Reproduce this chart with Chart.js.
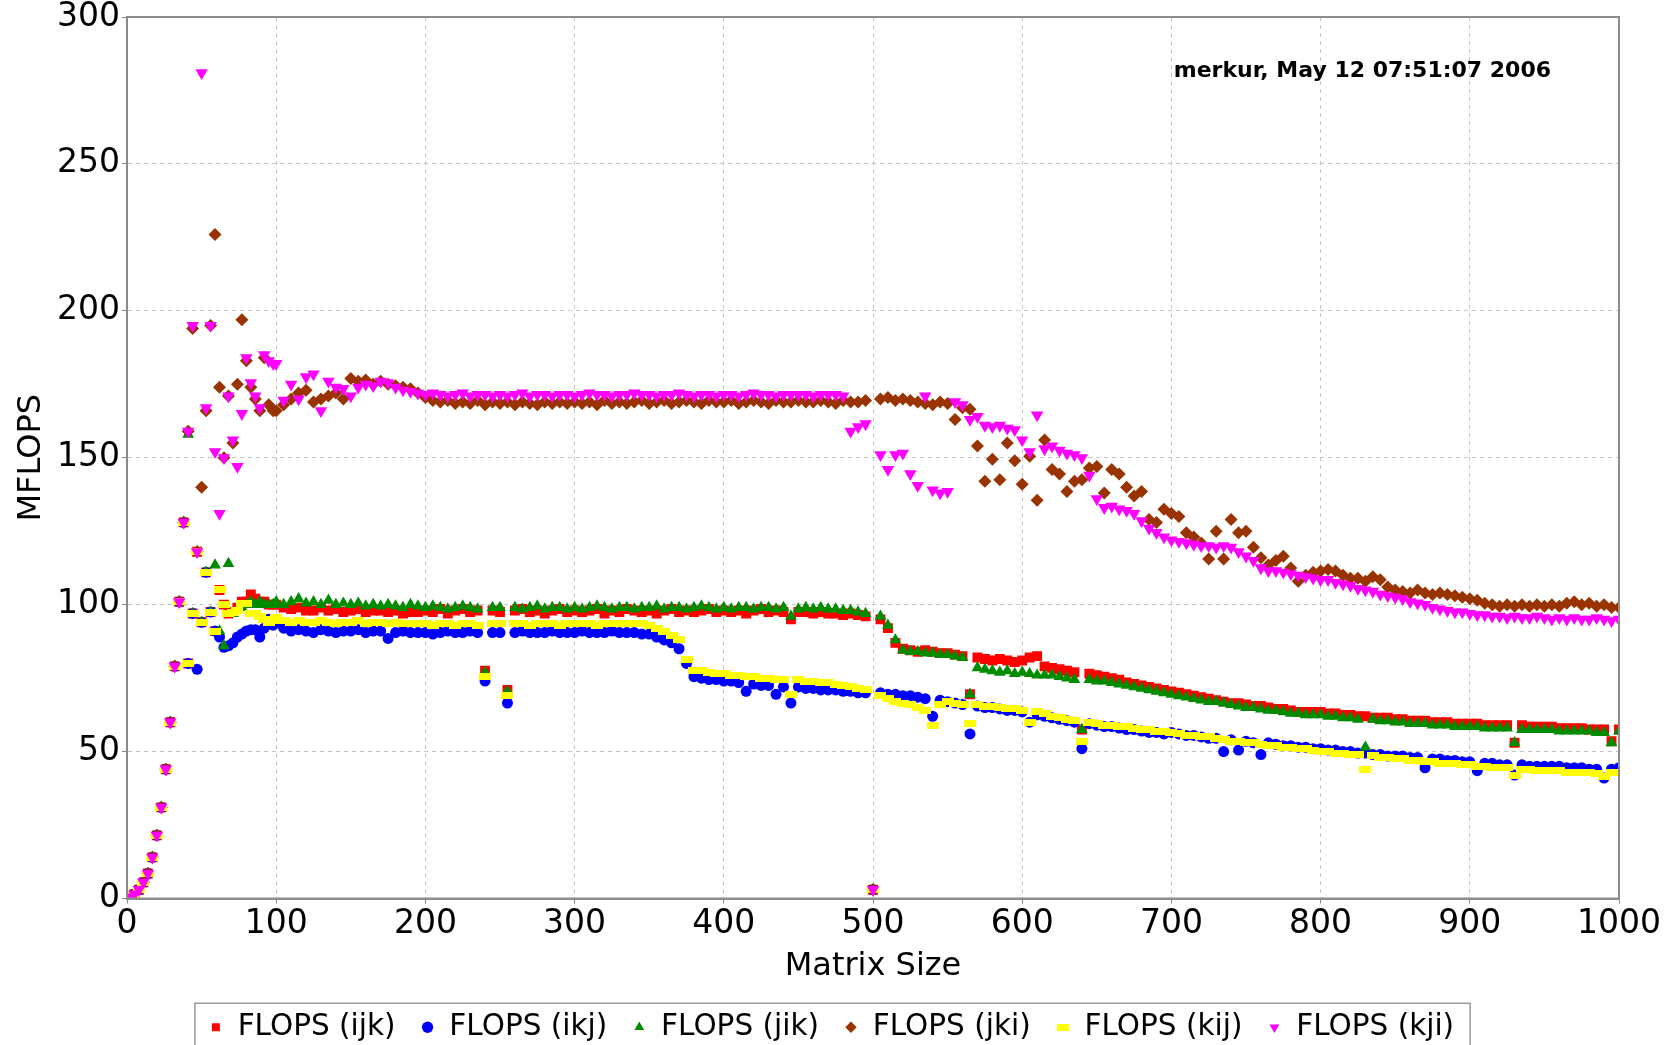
<!DOCTYPE html>
<html>
<head>
<meta charset="utf-8">
<title>MFLOPS vs Matrix Size</title>
<script src="https://cdn.jsdelivr.net/npm/chart.js@4.4.1/dist/chart.umd.min.js"></script>
<style>
  html, body { margin: 0; padding: 0; background: #ffffff; }
  #wrap { width: 1677px; height: 1045px; }
</style>
</head>
<body>
<div id="wrap"><canvas id="flopsChart" width="1677" height="1045"></canvas></div>
<script>
// Matrix sizes (x) - step 3 below 100, step 5 above
const sizes = [
  2, 5, 8, 11, 14, 17, 20, 23, 26, 29, 32, 35, 38,
  41, 44, 47, 50, 53, 56, 59, 62, 65, 68, 71, 74, 77, 80, 83, 86, 89, 92, 95, 98,
  100, 105, 110, 115, 120, 125, 130, 135, 140, 145,
  150, 155, 160, 165, 170, 175, 180, 185, 190, 195,
  200, 205, 210, 215, 220, 225, 230, 235, 240, 245,
  250, 255, 260, 265, 270, 275, 280, 285, 290, 295,
  300, 305, 310, 315, 320, 325, 330, 335, 340, 345,
  350, 355, 360, 365, 370, 375, 380, 385, 390, 395,
  400, 405, 410, 415, 420, 425, 430, 435, 440, 445,
  450, 455, 460, 465, 470, 475, 480, 485, 490, 495,
  500, 505, 510, 515, 520, 525, 530, 535, 540, 545,
  550, 555, 560, 565, 570, 575, 580, 585, 590, 595,
  600, 605, 610, 615, 620, 625, 630, 635, 640, 645,
  650, 655, 660, 665, 670, 675, 680, 685, 690, 695,
  700, 705, 710, 715, 720, 725, 730, 735, 740, 745,
  750, 755, 760, 765, 770, 775, 780, 785, 790, 795,
  800, 805, 810, 815, 820, 825, 830, 835, 840, 845,
  850, 855, 860, 865, 870, 875, 880, 885, 890, 895,
  900, 905, 910, 915, 920, 925, 930, 935, 940, 945,
  950, 955, 960, 965, 970, 975, 980, 985, 990, 995,
  1000,
]

// MFLOPS per loop order
const ijk = [
  0.5, 1.5, 3, 5.5, 8.5, 14, 21.5, 31, 44, 60, 79, 101, 128,
  80, 97, 118, 94, 111, 97.5, 91, 105, 100, 97, 97.5, 99, 101, 101, 103.5, 102, 101, 101, 100, 100,
  100, 99, 98.5, 99, 98, 98, 99, 98, 98.5, 97.5,
  98, 98.5, 97.5, 98, 98, 97.5, 98, 97, 97.5, 97.5,
  98, 97.5, 98.5, 97, 98, 98.5, 97.5, 98, 77.5, 98,
  97.5, 71, 98, 98.5, 97.5, 98, 97, 98, 98.5, 97.5,
  98, 97.5, 98, 98.5, 97, 98, 97.5, 98.5, 98, 97.5,
  98, 97, 98, 98.5, 97.5, 98, 97.5, 98, 98.5, 97.5,
  98, 97.5, 98, 97, 98, 98.5, 97.5, 98, 97.5, 95,
  97.5, 97.5, 97, 97.5, 97, 97, 96.5, 97, 96.5, 96,
  3, 95, 92, 87, 85, 84.5, 84, 84.5, 84, 83.5,
  83.5, 83, 82.5, 69.5, 82, 81.5, 81, 81.5, 81, 80.5,
  81, 82, 82.5, 79, 78.5, 78, 77.5, 77, 57.5, 76.5,
  76, 75.5, 75, 74.5, 73.5, 73, 72.5, 72, 71.5, 71,
  70.5, 70, 69.5, 69, 68.5, 68, 67.5, 67, 66.5, 66.5,
  66, 65.5, 65.5, 65, 64.5, 64.5, 64, 63.5, 63.5, 63.5,
  63.5, 63, 63, 62.5, 62.5, 62, 62, 61.5, 61.5, 61.5,
  61, 61, 60.5, 60.5, 60.5, 60, 60, 60, 59.5, 59.5,
  59.5, 59.5, 59, 59, 59, 59, 53, 59, 58.5, 58.5,
  58.5, 58.5, 58, 58, 58, 58, 57.5, 57.5, 57.5, 53.5,
  57.5,
]

const ikj = [
  0.5, 1.5, 3, 5.5, 8.5, 14, 21.5, 31, 44, 60, 79, 101, 128,
  80, 97, 78, 94, 111, 97.5, 91, 89, 85.5, 86, 87, 89, 90, 91, 91.5, 91.5, 89, 92, 95, 93,
  94, 92, 91, 91.5, 91, 90.5, 91.5, 91, 90.5, 91,
  91, 91.5, 90.5, 91, 91, 88.5, 90.5, 91, 90.5, 90.5,
  90.5, 90, 90.5, 91, 90.5, 90.5, 91, 90.5, 74, 90.5,
  90.5, 66.5, 90.5, 91, 90.5, 90.5, 90.5, 91, 90.5, 90.5,
  90.5, 91, 90.5, 90.5, 90.5, 91, 90.5, 90.5, 90.5, 90,
  90, 89, 88, 87, 85, 80, 75.5, 75, 74.5, 74.5,
  74, 74, 73.5, 70.5, 73, 72.5, 72.5, 69.5, 72, 66.5,
  72, 71.5, 71.5, 71, 71, 71, 70.5, 70.5, 70, 70,
  3, 70, 69.5, 69.5, 69, 69, 68.5, 68, 62, 67.5,
  67, 66.5, 66, 56, 65.5, 65, 65, 64.5, 64, 64,
  63.5, 60, 62.5, 62, 61.5, 61, 60.5, 60, 51, 59.5,
  59, 58.5, 58.5, 58, 57.5, 57.5, 57, 56.5, 56.5, 56,
  56.5, 56, 55.5, 55.5, 55, 54.5, 54.5, 50, 54, 50.5,
  53.5, 53, 49, 53, 52.5, 52, 52, 51.5, 51.5, 51,
  51, 50.5, 50.5, 50, 50, 49.5, 49.5, 49, 49, 48.5,
  48.5, 48.5, 48, 48, 44.5, 47.5, 47.5, 47, 47, 46.5,
  46.5, 43.5, 46, 46, 45.5, 45.5, 42, 45.5, 45, 45,
  45, 45, 45, 44.5, 44.5, 44.5, 44, 44, 41, 44,
  44.5,
]

const jik = [
  0.5, 1.5, 3, 5.5, 8.5, 14, 21.5, 31, 44, 60, 79, 101, 128,
  158, 97, 118, 94, 111, 97.5, 113.5, 91, 86, 114, 97, 98, 99, 100, 101, 100, 101, 100, 100, 100,
  101, 100, 101, 102, 100.5, 101, 100, 101.5, 100, 100.5,
  100, 100.5, 99.5, 100, 99.5, 100, 99.5, 99, 100, 99.5,
  99, 99.5, 99, 98.5, 99, 99.5, 99, 98.5, 77, 99,
  99, 70.5, 99, 98.5, 99, 99.5, 98.5, 99, 99, 98.5,
  99, 98.5, 99, 99.5, 99, 98.5, 99, 99, 98.5, 99,
  99, 99.5, 98.5, 99, 99, 98.5, 99, 99.5, 99, 98.5,
  99, 98.5, 99, 99, 98.5, 99, 99, 98.5, 99, 96,
  98.5, 99, 98.5, 99, 98.5, 98.5, 98, 98, 97.5, 97,
  3, 96, 93, 88, 84.5, 84, 84, 83.5, 83.5, 83,
  83, 82.5, 82, 69.5, 78.5, 78, 77.5, 77, 77.5, 76.5,
  77, 76.5, 76, 76, 76, 75.5, 75, 74.5, 57.5, 74.5,
  74, 74, 73.5, 73, 72.5, 72, 71.5, 71, 70.5, 70,
  69.5, 69, 68.5, 68, 67.5, 67, 67, 66.5, 66, 65.5,
  65, 65, 64.5, 64, 64, 63.5, 63, 63, 62.5, 62.5,
  62.5, 62, 62, 61.5, 61.5, 61, 51.5, 61, 60.5, 60.5,
  60, 60, 59.5, 59.5, 59.5, 59, 59, 59, 58.5, 58.5,
  58.5, 58.5, 58, 58, 58, 58, 53, 57.5, 57.5, 57.5,
  57.5, 57.5, 57, 57, 57, 57, 57, 56.5, 56.5, 53,
  57,
]

const jki = [
  0.5, 1.5, 3, 5.5, 8.5, 14, 21.5, 31, 44, 60, 79, 101, 128,
  159, 194, 118, 140, 166, 195, 226, 174, 150, 171, 155, 175, 197, 183, 174, 170, 166, 184, 168, 166,
  166, 168, 170, 172, 173, 169, 170, 171, 172, 170,
  177, 176, 176.5, 175, 176, 175, 174.5, 174, 173.5, 172,
  170.5, 169.5, 169, 169.5, 168.5, 169, 168.5, 169.5, 168, 169,
  168.5, 169, 168, 169, 168.5, 168, 169, 168.5, 169, 168.5,
  169, 168.5, 169, 168, 169.5, 168.5, 169, 168.5, 169, 169.5,
  168.5, 169, 169.5, 168.5, 169, 169.5, 169, 168.5, 169.5, 169,
  169, 169.5, 168.5, 169, 169.5, 169, 168.5, 169.5, 169, 169,
  169.5, 169, 169, 169.5, 169, 168.5, 169.5, 169, 169, 169.5,
  3, 170, 170.5, 169.5, 170, 169.5, 169, 168.5, 168, 169,
  168.5, 163, 167, 166.5, 154, 142, 149.5, 142.5, 155, 149,
  141, 150.5, 135.5, 156, 146, 144.5, 138.5, 142, 142.5, 146.5,
  147, 138, 146, 144.5, 140, 137, 138.5, 129, 128, 132.5,
  131, 130, 124.5, 123, 121, 115.5, 125, 115.5, 129, 124.5,
  125, 119.5, 116, 113.5, 115, 116.5, 112.5, 108, 110, 111,
  111.5, 112, 111.5, 110, 109, 109, 108, 109.5, 108.5, 106,
  105, 104.5, 104, 105, 104, 103.5, 104, 103.5, 103, 102.5,
  102, 101.5, 100.5, 100, 99.5, 100, 99.5, 100, 99.5, 100,
  99.5, 100, 99.5, 100.5, 101, 100, 100.5, 99.5, 100, 99,
  99,
]

const kij = [
  0.5, 1.5, 3, 5.5, 8.5, 14, 21.5, 31, 44, 60, 79, 101, 128,
  80, 97, 118, 94, 111, 97.5, 91, 105, 100, 97, 97.5, 98, 100.5, 100.5, 97, 97, 96, 95, 94, 94.5,
  95.5, 94.5, 94, 94.5, 94, 94, 94.5, 94, 93.5, 94,
  94, 94.5, 93.5, 94, 94, 93.5, 94, 93.5, 93.5, 93.5,
  93.5, 93, 93.5, 93.5, 93, 93.5, 93.5, 93, 75.5, 93.5,
  93.5, 69, 93.5, 93.5, 93, 93.5, 93.5, 93.5, 93, 93.5,
  93.5, 93.5, 93.5, 93, 93.5, 93.5, 93.5, 93.5, 93.5, 93.5,
  93, 92, 91, 89.5, 88, 81.5, 77.5, 77.5, 77, 76.5,
  76.5, 76, 76, 75.5, 75.5, 75, 75, 74.5, 74.5, 69.5,
  74.5, 74, 74, 73.5, 73.5, 73, 72.5, 72, 71.5, 71,
  3, 69, 68, 67, 66.5, 66, 65, 64, 59, 66,
  67, 66.5, 66, 59.5, 66, 65.5, 65.5, 65, 64.5, 64.5,
  64, 60, 63.5, 63, 62, 61.5, 61, 60.5, 53.5, 60,
  59.5, 59, 59, 58.5, 58.5, 58, 57.5, 57.5, 57, 57,
  56.5, 56, 55.5, 55.5, 55, 55, 54.5, 54, 53.5, 53.5,
  53, 53, 52.5, 52, 52, 51.5, 51.5, 51, 51, 50.5,
  50, 50, 49.5, 49.5, 49, 49, 44, 48.5, 48, 48,
  47.5, 47.5, 47, 47, 46.5, 46.5, 46, 46, 46, 45.5,
  45.5, 45, 45, 44.5, 44.5, 44.5, 42, 44, 44, 43.5,
  43.5, 43.5, 43.5, 43, 43, 43, 43, 42.5, 41.5, 43,
  43,
]

const kji = [
  0.5, 1.5, 3, 5.5, 8.5, 14, 21.5, 31, 44, 60, 79, 101, 128,
  159, 195, 118, 281, 167, 195, 152, 131, 150, 171, 156, 147, 165, 184, 175.5, 171, 167, 185, 183, 182,
  182, 169.5, 175, 170, 177.5, 178.5, 166, 176, 174, 173.5,
  171, 174, 175, 174.5, 176, 175.5, 174, 173, 172.5, 172,
  171.5, 172, 171.5, 171, 171.5, 172, 171, 171.5, 171.5, 171,
  171.5, 171, 171.5, 172, 171, 171.5, 171.5, 171, 171.5, 171.5,
  171, 171.5, 172, 171.5, 171.5, 171, 171.5, 171.5, 172, 171.5,
  171.5, 171, 171.5, 171.5, 172, 171.5, 171, 171.5, 171.5, 171,
  171.5, 171.5, 171, 171.5, 172, 171.5, 171.5, 171, 171.5, 171.5,
  171.5, 171.5, 171, 171.5, 171.5, 171.5, 171, 159, 160.5, 161.5,
  3, 151, 146, 151, 151.5, 144.5, 140.5, 171, 139, 138,
  138.5, 169, 168, 163, 164, 161, 160.5, 161, 160, 159.5,
  156, 152, 164.5, 153, 154, 152.5, 151.5, 151, 150, 144,
  136, 133, 133.5, 132.5, 132, 131, 128.5, 126, 124.5, 123,
  122, 121.5, 121, 120.5, 120, 120, 119.5, 120, 119.5, 118,
  116.5, 115, 112.5, 111.5, 111.5, 111, 110.5, 110, 109.5, 109,
  108.5, 108.5, 107.5, 107, 106.5, 105.5, 105, 104.5, 103.5, 103,
  102.5, 102, 101, 100.5, 100, 99, 98.5, 98, 97.5, 97.5,
  97, 96.5, 96.5, 96, 96, 95.5, 96, 95.5, 95.5, 96,
  95.5, 95, 95.5, 95, 95.5, 95, 95, 95.5, 95, 94.5,
  95,
]

const seriesLabels = ['FLOPS (ijk)', 'FLOPS (ikj)', 'FLOPS (jik)', 'FLOPS (jki)', 'FLOPS (kij)', 'FLOPS (kji)']
const stampText = 'merkur, May 12 07:51:07 2006'

const FONT = "'DejaVu Sans', 'Liberation Sans', sans-serif"
Chart.defaults.font.family = FONT
Chart.defaults.color = '#000'

// small horizontal bar marker for the kij series
function barMark(color, w, h) {
  const c = document.createElement('canvas')
  c.width = w
  c.height = h
  const g = c.getContext('2d')
  g.fillStyle = color
  g.fillRect(0, 0, w, h)
  return c
}

function toPoints(values) {
  return sizes.map((x, i) => ({ x: x, y: values[i] }))
}

function series(i, values, color, style, radius, order, rotation) {
  return {
    label: seriesLabels[i],
    data: toPoints(values),
    backgroundColor: color,
    borderColor: color,
    borderWidth: 0,
    pointBorderWidth: 0,
    pointStyle: style,
    pointRadius: radius,
    pointRotation: rotation || 0,
    order: order,
  }
}

// frame round the plot, the time stamp and the box round the legend
const frameAndStamp = {
  id: 'frameAndStamp',
  afterDraw(chart) {
    const { ctx, chartArea: a } = chart
    ctx.save()
    ctx.setLineDash([])
    ctx.strokeStyle = '#8c8c8c'
    ctx.lineWidth = 2
    ctx.strokeRect(a.left, a.top, a.right - a.left, a.bottom - a.top)

    ctx.fillStyle = '#000'
    ctx.font = 'bold 22px ' + FONT
    ctx.textAlign = 'right'
    ctx.textBaseline = 'alphabetic'
    ctx.fillText(stampText, a.right - 68, a.top + 60)

    const hb = chart.legend.legendHitBoxes
    if (hb && hb.length) {
      const first = hb[0]
      const last = hb[hb.length - 1]
      const midY = first.top + first.height / 2
      const left = first.left - 14
      const right = last.left + last.width + 16
      ctx.strokeStyle = '#9a9a9a'
      ctx.lineWidth = 1.5
      ctx.strokeRect(left, midY - 24, right - left, 44)
    }
    ctx.restore()
  },
}

const ctx = document.getElementById('flopsChart').getContext('2d')
new Chart(ctx, {
  type: 'scatter',
  data: {
    datasets: [
      series(0, ijk, '#ff0000', 'rect', 7, 6),
      series(1, ikj, '#0000ff', 'circle', 5.5, 5),
      series(2, jik, '#008c00', 'triangle', 6.8, 4),
      series(3, jki, '#993300', 'rectRot', 6.5, 3),
      series(4, kij, '#ffff00', barMark('#ffff00', 12, 7), 6, 2),
      series(5, kji, '#ff00ff', 'triangle', 7.2, 1, 180),
    ],
  },
  options: {
    responsive: false,
    animation: false,
    devicePixelRatio: 1,
    layout: { padding: { left: 44, right: 58, top: 17, bottom: -7 } },
    plugins: {
      legend: {
        position: 'bottom',
        labels: {
          usePointStyle: true,
          boxWidth: 14,
          boxHeight: 8,
          padding: 25,
          color: '#000',
          font: { size: 29.5 },
          sort: (a, b) => a.datasetIndex - b.datasetIndex,
        },
      },
      tooltip: { enabled: false },
    },
    scales: {
      x: {
        type: 'linear',
        min: 0,
        max: 1000,
        afterFit: (s) => {
          s.height = 89
          s.paddingLeft = 0
          s.paddingRight = 0
        },
        ticks: {
          stepSize: 100,
          padding: 1,
          color: '#000',
          font: { size: 33 },
          maxRotation: 0,
          callback: (v) => String(v),
        },
        grid: { color: '#c4c4c4', lineWidth: 1, tickLength: 5, tickColor: '#888', tickBorderDash: [] },
        border: { color: '#8c8c8c', width: 2, dash: [4, 4] },
        title: {
          display: true,
          text: 'Matrix Size',
          color: '#000',
          font: { size: 32, lineHeight: 1 },
          padding: { top: 0, bottom: 5 },
        },
      },
      y: {
        type: 'linear',
        min: 0,
        max: 300,
        afterFit: (s) => {
          s.width = 83
          s.paddingTop = 0
          s.paddingBottom = 0
        },
        ticks: { stepSize: 50, padding: 2, color: '#000', font: { size: 33 }, callback: (v) => String(v) },
        grid: { color: '#c4c4c4', lineWidth: 1, tickLength: 5, tickColor: '#888', tickBorderDash: [] },
        border: { color: '#8c8c8c', width: 2, dash: [4, 4] },
        title: {
          display: true,
          text: 'MFLOPS',
          color: '#000',
          font: { size: 32, lineHeight: 1 },
          padding: { top: -28, bottom: 0 },
        },
      },
    },
  },
  plugins: [frameAndStamp],
})
</script>
</body>
</html>
